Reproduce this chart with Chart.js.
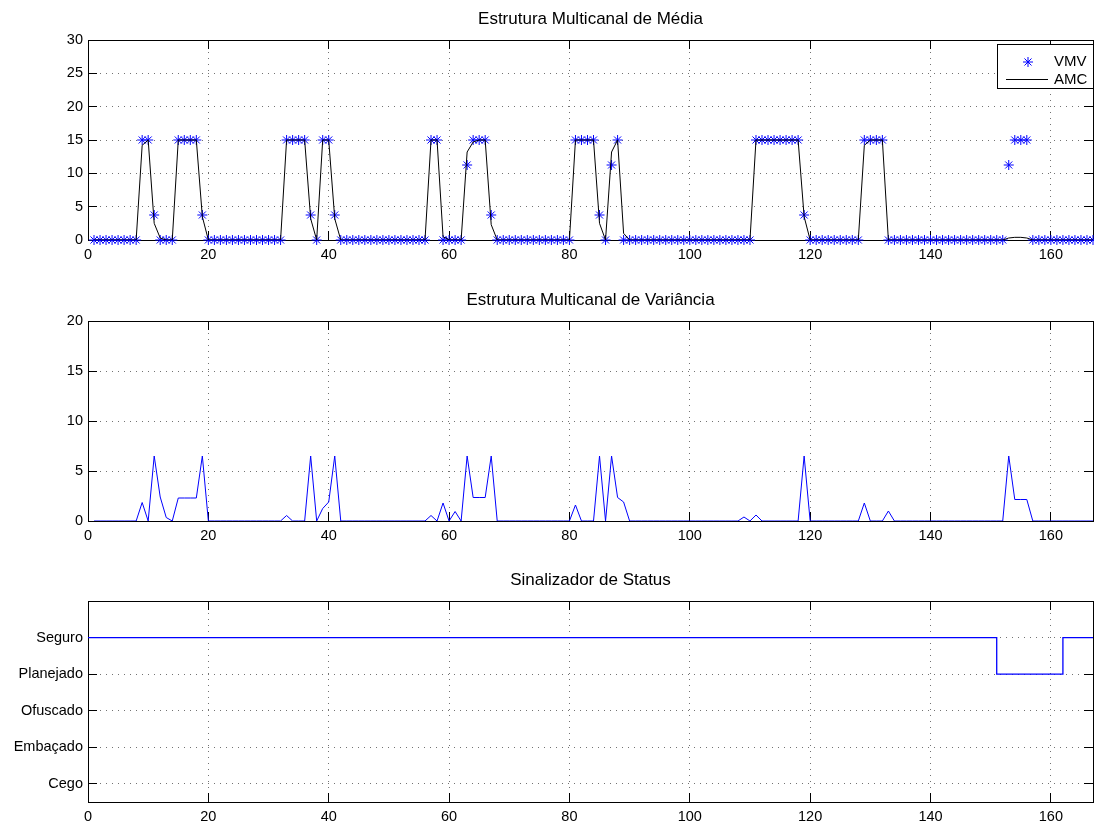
<!DOCTYPE html>
<html>
<head>
<meta charset="utf-8">
<script src="https://cdn.jsdelivr.net/npm/chart.js@4.4.1/dist/chart.umd.min.js"></script>
<style>
body { margin: 0; background: #fff; }
#wrap { position: relative; width: 1094px; height: 821px; }
canvas { position: absolute; left: 0; }
</style>
</head>
<body>
<div id="wrap">
  <canvas id="media" width="1094" height="280" style="top:0px"></canvas>
  <canvas id="variancia" width="1094" height="270" style="top:280px"></canvas>
  <canvas id="status" width="1094" height="261" style="top:560px"></canvas>
</div>
<script>
// amostras 1..167
var vmv = [
    0, 0, 0, 0, 0, 0, 0, 0, 15, 15,
    3.75, 0, 0, 0, 15, 15, 15, 15, 3.75, 0,
    0, 0, 0, 0, 0, 0, 0, 0, 0, 0,
    0, 0, 15, 15, 15, 15, 3.75, 0, 15, 15,
    3.75, 0, 0, 0, 0, 0, 0, 0, 0, 0,
    0, 0, 0, 0, 0, 0, 15, 15, 0, 0,
    0, 0, 11.25, 15, 15, 15, 3.75, 0, 0, 0,
    0, 0, 0, 0, 0, 0, 0, 0, 0, 0,
    15, 15, 15, 15, 3.75, 0, 11.25, 15, 0, 0,
    0, 0, 0, 0, 0, 0, 0, 0, 0, 0,
    0, 0, 0, 0, 0, 0, 0, 0, 0, 0,
    15, 15, 15, 15, 15, 15, 15, 15, 3.75, 0,
    0, 0, 0, 0, 0, 0, 0, 0, 15, 15,
    15, 15, 0, 0, 0, 0, 0, 0, 0, 0,
    0, 0, 0, 0, 0, 0, 0, 0, 0, 0,
    0, 0, 11.25, 15, 15, 15, 0, 0, 0, 0,
    0, 0, 0, 0, 0, 0, 0
];
var amc = [
    0, 0, 0, 0, 0, 0, 0, 0, 14.2, 15,
    2.5, 0.3, 0, 0, 15, 15, 15, 15, 3.5, 0,
    0, 0, 0, 0, 0, 0, 0, 0, 0, 0,
    0, 0, 15, 15, 15, 15, 3.2, 0, 15, 15,
    3.2, 0, 0, 0, 0, 0, 0, 0, 0, 0,
    0, 0, 0, 0, 0, 0, 15, 15, 0.5, 0,
    0, 0, 13.2, 14.7, 15, 15, 2.3, 0, 0, 0,
    0, 0, 0, 0, 0, 0, 0, 0, 0, 0,
    15, 15, 15, 15, 2.5, 0, 13.2, 15, 1, 0,
    0, 0, 0, 0, 0, 0, 0, 0, 0, 0,
    0, 0, 0, 0, 0, 0, 0, 0, 0, 0,
    15, 15, 15, 15, 15, 15, 15, 15, 3.5, 0,
    0, 0, 0, 0, 0, 0, 0, 0, 14.2, 15,
    15, 15, 0, 0, 0, 0, 0, 0, 0, 0,
    0, 0, 0, 0, 0, 0, 0, 0, 0, 0,
    0, 0, 0.3, 0.4, 0.4, 0.3, 0, 0, 0, 0,
    0, 0, 0, 0, 0, 0, 0
];
var variancia = [
    0, 0, 0, 0, 0, 0, 0, 0, 1.85, 0,
    6.5, 2.4, 0.35, 0, 2.3, 2.3, 2.3, 2.3, 6.5, 0,
    0, 0, 0, 0, 0, 0, 0, 0, 0, 0,
    0, 0, 0.55, 0, 0, 0, 6.5, 0, 1.25, 1.9,
    6.5, 0, 0, 0, 0, 0, 0, 0, 0, 0,
    0, 0, 0, 0, 0, 0, 0.55, 0, 1.8, 0,
    0.95, 0, 6.5, 2.35, 2.35, 2.35, 6.5, 0, 0, 0,
    0, 0, 0, 0, 0, 0, 0, 0, 0, 0,
    1.6, 0, 0, 0, 6.5, 0, 6.5, 2.35, 1.9, 0,
    0, 0, 0, 0, 0, 0, 0, 0, 0, 0,
    0, 0, 0, 0, 0, 0, 0, 0, 0.4, 0,
    0.6, 0, 0, 0, 0, 0, 0, 0, 6.5, 0,
    0, 0, 0, 0, 0, 0, 0, 0, 1.8, 0,
    0, 0, 1.0, 0, 0, 0, 0, 0, 0, 0,
    0, 0, 0, 0, 0, 0, 0, 0, 0, 0,
    0, 0, 6.5, 2.15, 2.15, 2.15, 0, 0, 0, 0,
    0, 0, 0, 0, 0, 0, 0
];
// sinalizador: pontos de mudanca (degraus)
var statusX = [0, 151, 162, 167];
var statusY = [5, 4, 5, 5];
var nomesStatus = ['Cego', 'Embaçado', 'Ofuscado', 'Planejado', 'Seguro'];

var ticksX = [0, 20, 40, 60, 80, 100, 120, 140, 160];
var ticksMedia = [0, 5, 10, 15, 20, 25, 30];
var ticksVariancia = [0, 5, 10, 15, 20];
var ticksStatus = [1, 2, 3, 4, 5];

const FONTE = "'Liberation Sans', Arial, Helvetica, sans-serif";
const AZUL = 'rgb(0,0,255)';
Chart.defaults.font.family = FONTE;
Chart.defaults.font.size = 14.5;
Chart.defaults.color = '#000';

function pontos(serie) {
    return serie.map((v, i) => ({x: i + 1, y: v}));
}

function alinha(p) {
    return Math.round(p - 0.5) + 0.5;
}

// caixa estilo matlab, ticks para dentro, titulo e legenda
const moldura = {
    id: 'moldura',
    beforeDatasetsDraw(chart, args, opts) {
        const ctx = chart.ctx, a = chart.chartArea, sx = chart.scales.x, sy = chart.scales.y;
        ctx.save();
        ctx.strokeStyle = '#000';
        ctx.lineWidth = 1;
        ctx.beginPath();
        sx.ticks.forEach(t => {
            const px = alinha(sx.getPixelForValue(t.value));
            ctx.moveTo(px, a.bottom); ctx.lineTo(px, a.bottom - 9);
            ctx.moveTo(px, a.top); ctx.lineTo(px, a.top + 9);
        });
        sy.ticks.forEach(t => {
            const py = alinha(sy.getPixelForValue(t.value));
            ctx.moveTo(a.left, py); ctx.lineTo(a.left + 9, py);
            ctx.moveTo(a.right, py); ctx.lineTo(a.right - 9, py);
        });
        ctx.stroke();
        ctx.strokeRect(alinha(a.left), alinha(a.top), Math.round(a.right - a.left), Math.round(a.bottom - a.top));
        ctx.restore();
    },
    afterDraw(chart, args, opts) {
        const ctx = chart.ctx, a = chart.chartArea;
        ctx.save();
        ctx.fillStyle = '#000';
        ctx.font = '17px ' + FONTE;
        ctx.textAlign = 'center';
        ctx.textBaseline = 'middle';
        ctx.fillText(opts.titulo, (a.left + a.right) / 2, a.top - 21);
        if (opts.legenda) {
            const lx = Math.round(a.right) - 96, ly = Math.round(a.top) + 4;
            ctx.fillStyle = '#fff';
            ctx.fillRect(lx, ly, 96, 44);
            ctx.strokeStyle = '#000';
            ctx.lineWidth = 1;
            ctx.strokeRect(lx + 0.5, ly + 0.5, 96, 44);
            ctx.strokeStyle = AZUL;
            Chart.helpers.drawPoint(ctx, {pointStyle: 'star', radius: 5, borderWidth: 1, rotation: 0}, lx + 31, ly + 18);
            ctx.strokeStyle = '#000';
            ctx.beginPath();
            ctx.moveTo(lx + 9, ly + 35.5);
            ctx.lineTo(lx + 51, ly + 35.5);
            ctx.stroke();
            ctx.fillStyle = '#000';
            ctx.font = '15px ' + FONTE;
            ctx.textAlign = 'left';
            ctx.fillText('VMV', lx + 57, ly + 18);
            ctx.fillText('AMC', lx + 57, ly + 36);
        }
        ctx.restore();
    }
};

function escalas(yMin, yMax, yTicks, alturaX, rotulo) {
    return {
        x: {
            type: 'linear',
            min: 0,
            max: 167,
            afterBuildTicks: s => { s.ticks = ticksX.map(v => ({value: v})); },
            afterFit: s => { s.height = alturaX; },
            grid: {color: 'rgba(0,0,0,0.55)', lineWidth: 1, drawTicks: false},
            border: {display: false, dash: [1, 5]},
            ticks: {padding: 6, maxRotation: 0, autoSkip: false}
        },
        y: {
            type: 'linear',
            min: yMin,
            max: yMax,
            afterBuildTicks: s => { s.ticks = yTicks.map(v => ({value: v})); },
            afterFit: s => { s.width = 88; },
            grid: {color: 'rgba(0,0,0,0.55)', lineWidth: 1, drawTicks: false},
            border: {display: false, dash: [1, 5]},
            ticks: {padding: 5, autoSkip: false, callback: rotulo || (v => v)}
        }
    };
}

function opcoes(titulo, legenda, topo, sc) {
    return {
        responsive: false,
        animation: false,
        events: [],
        layout: {autoPadding: false, padding: {left: 0, right: 1, top: topo, bottom: 0}},
        scales: sc,
        plugins: {
            legend: {display: false},
            tooltip: {enabled: false},
            moldura: {titulo: titulo, legenda: legenda}
        }
    };
}

new Chart(document.getElementById('media'), {
    type: 'line',
    data: {
        datasets: [
            {
                label: 'AMC',
                data: pontos(amc),
                borderColor: '#000',
                borderWidth: 1,
                pointRadius: 0,
                tension: 0
            },
            {
                label: 'VMV',
                data: pontos(vmv),
                showLine: false,
                pointStyle: 'star',
                pointRadius: 5,
                borderColor: AZUL,
                pointBorderWidth: 1,
                clip: false
            }
        ]
    },
    options: opcoes('Estrutura Multicanal de Média', true, 40, escalas(0, 30, ticksMedia, 40)),
    plugins: [moldura]
});

new Chart(document.getElementById('variancia'), {
    type: 'line',
    data: {
        datasets: [{
            label: 'Variância',
            data: pontos(variancia),
            borderColor: AZUL,
            borderWidth: 1,
            pointRadius: 0,
            tension: 0
        }]
    },
    options: opcoes('Estrutura Multicanal de Variância', false, 41, escalas(0, 20, ticksVariancia, 29)),
    plugins: [moldura]
});

new Chart(document.getElementById('status'), {
    type: 'line',
    data: {
        datasets: [{
            label: 'Status',
            data: statusX.map((x, i) => ({x: x, y: statusY[i]})),
            borderColor: AZUL,
            borderWidth: 1.3,
            pointRadius: 0,
            stepped: true
        }]
    },
    options: opcoes('Sinalizador de Status', false, 41,
        escalas(0.5, 6, ticksStatus, 19, v => nomesStatus[v - 1])),
    plugins: [moldura]
});
</script>
</body>
</html>
